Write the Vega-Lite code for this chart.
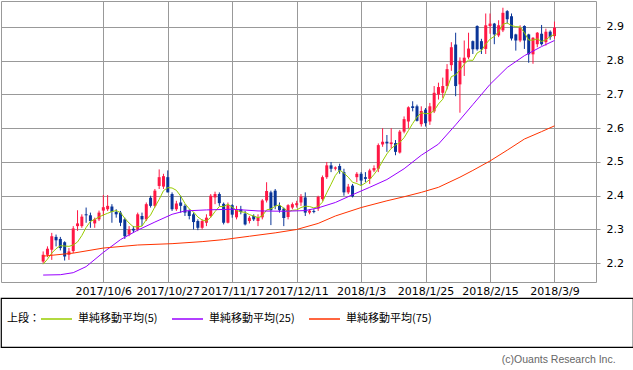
{
"$schema": "https://vega.github.io/schema/vega-lite/v6.json",
"background": "white",
"padding": {"left": 0, "top": 0, "right": 0, "bottom": 0},
"spacing": 0,
"title": {"text": "(c)Ouants Research Inc.", "orient": "bottom", "anchor": "end", "font": "Liberation Sans", "fontSize": 10.5, "fontWeight": "normal", "color": "#666666", "offset": 7, "dx": -18},
"datasets": {
"candles": [
{"i":0,"o":2.205,"h":2.235,"l":2.2,"c":2.225},
{"i":1,"o":2.225,"h":2.25,"l":2.218,"c":2.243},
{"i":2,"o":2.24,"h":2.29,"l":2.21,"c":2.28},
{"i":3,"o":2.278,"h":2.285,"l":2.25,"c":2.268},
{"i":4,"o":2.272,"h":2.278,"l":2.238,"c":2.245},
{"i":5,"o":2.262,"h":2.265,"l":2.208,"c":2.22},
{"i":6,"o":2.225,"h":2.245,"l":2.21,"c":2.235},
{"i":7,"o":2.236,"h":2.31,"l":2.23,"c":2.303},
{"i":8,"o":2.31,"h":2.357,"l":2.296,"c":2.318},
{"i":9,"o":2.31,"h":2.345,"l":2.305,"c":2.338},
{"i":10,"o":2.345,"h":2.365,"l":2.32,"c":2.342},
{"i":11,"o":2.342,"h":2.35,"l":2.305,"c":2.325},
{"i":12,"o":2.318,"h":2.335,"l":2.305,"c":2.33},
{"i":13,"o":2.33,"h":2.356,"l":2.325,"c":2.35},
{"i":14,"o":2.356,"h":2.402,"l":2.34,"c":2.366},
{"i":15,"o":2.36,"h":2.402,"l":2.355,"c":2.37},
{"i":16,"o":2.368,"h":2.375,"l":2.32,"c":2.352},
{"i":17,"o":2.352,"h":2.36,"l":2.335,"c":2.345},
{"i":18,"o":2.35,"h":2.355,"l":2.31,"c":2.32},
{"i":19,"o":2.33,"h":2.335,"l":2.272,"c":2.28},
{"i":20,"o":2.285,"h":2.31,"l":2.28,"c":2.3},
{"i":21,"o":2.302,"h":2.31,"l":2.29,"c":2.297},
{"i":22,"o":2.3,"h":2.35,"l":2.295,"c":2.345},
{"i":23,"o":2.34,"h":2.35,"l":2.31,"c":2.33},
{"i":24,"o":2.33,"h":2.38,"l":2.325,"c":2.375},
{"i":25,"o":2.394,"h":2.4,"l":2.365,"c":2.37},
{"i":26,"o":2.37,"h":2.42,"l":2.365,"c":2.415},
{"i":27,"o":2.429,"h":2.478,"l":2.42,"c":2.455},
{"i":28,"o":2.427,"h":2.465,"l":2.42,"c":2.458},
{"i":29,"o":2.455,"h":2.475,"l":2.41,"c":2.41},
{"i":30,"o":2.405,"h":2.41,"l":2.355,"c":2.36},
{"i":31,"o":2.36,"h":2.385,"l":2.355,"c":2.377},
{"i":32,"o":2.38,"h":2.4,"l":2.35,"c":2.37},
{"i":33,"o":2.37,"h":2.375,"l":2.34,"c":2.35},
{"i":34,"o":2.355,"h":2.36,"l":2.33,"c":2.34},
{"i":35,"o":2.345,"h":2.35,"l":2.3,"c":2.322},
{"i":36,"o":2.325,"h":2.33,"l":2.298,"c":2.305},
{"i":37,"o":2.305,"h":2.33,"l":2.3,"c":2.325},
{"i":38,"o":2.32,"h":2.345,"l":2.31,"c":2.335},
{"i":39,"o":2.34,"h":2.405,"l":2.335,"c":2.4},
{"i":40,"o":2.395,"h":2.412,"l":2.375,"c":2.405},
{"i":41,"o":2.405,"h":2.41,"l":2.37,"c":2.378},
{"i":42,"o":2.376,"h":2.38,"l":2.315,"c":2.32},
{"i":43,"o":2.32,"h":2.38,"l":2.318,"c":2.372},
{"i":44,"o":2.372,"h":2.375,"l":2.335,"c":2.344},
{"i":45,"o":2.336,"h":2.37,"l":2.33,"c":2.36},
{"i":46,"o":2.36,"h":2.37,"l":2.345,"c":2.352},
{"i":47,"o":2.347,"h":2.355,"l":2.312,"c":2.315},
{"i":48,"o":2.325,"h":2.34,"l":2.318,"c":2.335},
{"i":49,"o":2.34,"h":2.345,"l":2.325,"c":2.33},
{"i":50,"o":2.325,"h":2.345,"l":2.31,"c":2.336},
{"i":51,"o":2.336,"h":2.39,"l":2.33,"c":2.386},
{"i":52,"o":2.386,"h":2.44,"l":2.38,"c":2.414},
{"i":53,"o":2.41,"h":2.415,"l":2.313,"c":2.357},
{"i":54,"o":2.415,"h":2.42,"l":2.36,"c":2.37},
{"i":55,"o":2.37,"h":2.38,"l":2.35,"c":2.357},
{"i":56,"o":2.362,"h":2.365,"l":2.31,"c":2.334},
{"i":57,"o":2.337,"h":2.375,"l":2.33,"c":2.372},
{"i":58,"o":2.365,"h":2.38,"l":2.36,"c":2.375},
{"i":59,"o":2.372,"h":2.385,"l":2.365,"c":2.378},
{"i":60,"o":2.38,"h":2.405,"l":2.37,"c":2.398},
{"i":61,"o":2.395,"h":2.41,"l":2.34,"c":2.35},
{"i":62,"o":2.35,"h":2.36,"l":2.345,"c":2.356},
{"i":63,"o":2.355,"h":2.36,"l":2.348,"c":2.352},
{"i":64,"o":2.362,"h":2.4,"l":2.355,"c":2.397},
{"i":65,"o":2.39,"h":2.46,"l":2.385,"c":2.455},
{"i":66,"o":2.455,"h":2.5,"l":2.45,"c":2.49},
{"i":67,"o":2.49,"h":2.5,"l":2.47,"c":2.48},
{"i":68,"o":2.48,"h":2.487,"l":2.475,"c":2.484},
{"i":69,"o":2.488,"h":2.495,"l":2.465,"c":2.474},
{"i":70,"o":2.47,"h":2.48,"l":2.4,"c":2.41},
{"i":71,"o":2.41,"h":2.435,"l":2.405,"c":2.427},
{"i":72,"o":2.43,"h":2.435,"l":2.395,"c":2.398},
{"i":73,"o":2.455,"h":2.47,"l":2.44,"c":2.465},
{"i":74,"o":2.465,"h":2.47,"l":2.43,"c":2.445},
{"i":75,"o":2.455,"h":2.47,"l":2.44,"c":2.45},
{"i":76,"o":2.45,"h":2.48,"l":2.435,"c":2.475},
{"i":77,"o":2.475,"h":2.49,"l":2.47,"c":2.482},
{"i":78,"o":2.48,"h":2.555,"l":2.47,"c":2.55},
{"i":79,"o":2.552,"h":2.6,"l":2.545,"c":2.56},
{"i":80,"o":2.56,"h":2.58,"l":2.53,"c":2.555},
{"i":81,"o":2.553,"h":2.6,"l":2.54,"c":2.558},
{"i":82,"o":2.556,"h":2.565,"l":2.52,"c":2.53},
{"i":83,"o":2.528,"h":2.595,"l":2.525,"c":2.59},
{"i":84,"o":2.59,"h":2.635,"l":2.585,"c":2.627},
{"i":85,"o":2.62,"h":2.665,"l":2.6,"c":2.662},
{"i":86,"o":2.665,"h":2.68,"l":2.65,"c":2.66},
{"i":87,"o":2.665,"h":2.67,"l":2.62,"c":2.622},
{"i":88,"o":2.612,"h":2.665,"l":2.605,"c":2.651},
{"i":89,"o":2.655,"h":2.66,"l":2.605,"c":2.615},
{"i":90,"o":2.62,"h":2.675,"l":2.61,"c":2.665},
{"i":91,"o":2.65,"h":2.725,"l":2.645,"c":2.705},
{"i":92,"o":2.7,"h":2.735,"l":2.685,"c":2.722},
{"i":93,"o":2.705,"h":2.75,"l":2.69,"c":2.725},
{"i":94,"o":2.725,"h":2.79,"l":2.715,"c":2.775},
{"i":95,"o":2.787,"h":2.855,"l":2.77,"c":2.84},
{"i":96,"o":2.848,"h":2.883,"l":2.695,"c":2.725},
{"i":97,"o":2.73,"h":2.81,"l":2.646,"c":2.8},
{"i":98,"o":2.794,"h":2.86,"l":2.755,"c":2.809},
{"i":99,"o":2.81,"h":2.883,"l":2.805,"c":2.836},
{"i":100,"o":2.858,"h":2.86,"l":2.82,"c":2.834},
{"i":101,"o":2.903,"h":2.905,"l":2.83,"c":2.834},
{"i":102,"o":2.858,"h":2.865,"l":2.82,"c":2.834},
{"i":103,"o":2.835,"h":2.94,"l":2.82,"c":2.905},
{"i":104,"o":2.903,"h":2.94,"l":2.88,"c":2.91},
{"i":105,"o":2.91,"h":2.912,"l":2.849,"c":2.878},
{"i":106,"o":2.875,"h":2.92,"l":2.87,"c":2.905},
{"i":107,"o":2.89,"h":2.957,"l":2.885,"c":2.942},
{"i":108,"o":2.947,"h":2.95,"l":2.91,"c":2.923},
{"i":109,"o":2.932,"h":2.94,"l":2.86,"c":2.866},
{"i":110,"o":2.878,"h":2.88,"l":2.83,"c":2.86},
{"i":111,"o":2.86,"h":2.905,"l":2.855,"c":2.898},
{"i":112,"o":2.903,"h":2.905,"l":2.835,"c":2.86},
{"i":113,"o":2.878,"h":2.88,"l":2.794,"c":2.819},
{"i":114,"o":2.819,"h":2.87,"l":2.791,"c":2.868},
{"i":115,"o":2.849,"h":2.885,"l":2.84,"c":2.883},
{"i":116,"o":2.88,"h":2.906,"l":2.845,"c":2.849},
{"i":117,"o":2.855,"h":2.895,"l":2.845,"c":2.886},
{"i":118,"o":2.886,"h":2.89,"l":2.862,"c":2.87},
{"i":119,"o":2.873,"h":2.916,"l":2.865,"c":2.898}
],
"ma": [
{"s":"5","i":0,"v":2.197},{"s":"5","i":1,"v":2.212},{"s":"5","i":2,"v":2.23},{"s":"5","i":3,"v":2.243},{"s":"5","i":4,"v":2.252},
{"s":"5","i":5,"v":2.251},{"s":"5","i":6,"v":2.25},{"s":"5","i":7,"v":2.254},{"s":"5","i":8,"v":2.263},{"s":"5","i":9,"v":2.282},
{"s":"5","i":10,"v":2.306},{"s":"5","i":11,"v":2.324},{"s":"5","i":12,"v":2.33},{"s":"5","i":13,"v":2.337},{"s":"5","i":14,"v":2.343},
{"s":"5","i":15,"v":2.348},{"s":"5","i":16,"v":2.353},{"s":"5","i":17,"v":2.356},{"s":"5","i":18,"v":2.35},{"s":"5","i":19,"v":2.333},
{"s":"5","i":20,"v":2.319},{"s":"5","i":21,"v":2.308},{"s":"5","i":22,"v":2.308},{"s":"5","i":23,"v":2.31},{"s":"5","i":24,"v":2.329},
{"s":"5","i":25,"v":2.343},{"s":"5","i":26,"v":2.367},{"s":"5","i":27,"v":2.389},{"s":"5","i":28,"v":2.415},{"s":"5","i":29,"v":2.424},
{"s":"5","i":30,"v":2.423},{"s":"5","i":31,"v":2.416},{"s":"5","i":32,"v":2.399},{"s":"5","i":33,"v":2.377},{"s":"5","i":34,"v":2.361},
{"s":"5","i":35,"v":2.352},{"s":"5","i":36,"v":2.337},{"s":"5","i":37,"v":2.328},{"s":"5","i":38,"v":2.325},{"s":"5","i":39,"v":2.336},
{"s":"5","i":40,"v":2.353},{"s":"5","i":41,"v":2.368},{"s":"5","i":42,"v":2.368},{"s":"5","i":43,"v":2.375},{"s":"5","i":44,"v":2.366},
{"s":"5","i":45,"v":2.357},{"s":"5","i":46,"v":2.352},{"s":"5","i":47,"v":2.351},{"s":"5","i":48,"v":2.344},{"s":"5","i":49,"v":2.34},
{"s":"5","i":50,"v":2.335},{"s":"5","i":51,"v":2.34},{"s":"5","i":52,"v":2.358},{"s":"5","i":53,"v":2.361},{"s":"5","i":54,"v":2.369},
{"s":"5","i":55,"v":2.373},{"s":"5","i":56,"v":2.363},{"s":"5","i":57,"v":2.353},{"s":"5","i":58,"v":2.357},{"s":"5","i":59,"v":2.358},
{"s":"5","i":60,"v":2.365},{"s":"5","i":61,"v":2.369},{"s":"5","i":62,"v":2.368},{"s":"5","i":63,"v":2.364},{"s":"5","i":64,"v":2.368},
{"s":"5","i":65,"v":2.381},{"s":"5","i":66,"v":2.409},{"s":"5","i":67,"v":2.434},{"s":"5","i":68,"v":2.46},{"s":"5","i":69,"v":2.476},
{"s":"5","i":70,"v":2.467},{"s":"5","i":71,"v":2.455},{"s":"5","i":72,"v":2.44},{"s":"5","i":73,"v":2.436},{"s":"5","i":74,"v":2.43},
{"s":"5","i":75,"v":2.438},{"s":"5","i":76,"v":2.448},{"s":"5","i":77,"v":2.463},{"s":"5","i":78,"v":2.48},{"s":"5","i":79,"v":2.503},
{"s":"5","i":80,"v":2.524},{"s":"5","i":81,"v":2.54},{"s":"5","i":82,"v":2.55},{"s":"5","i":83,"v":2.558},{"s":"5","i":84,"v":2.572},
{"s":"5","i":85,"v":2.593},{"s":"5","i":86,"v":2.614},{"s":"5","i":87,"v":2.633},{"s":"5","i":88,"v":2.646},{"s":"5","i":89,"v":2.643},
{"s":"5","i":90,"v":2.644},{"s":"5","i":91,"v":2.652},{"s":"5","i":92,"v":2.672},{"s":"5","i":93,"v":2.686},{"s":"5","i":94,"v":2.718},
{"s":"5","i":95,"v":2.753},{"s":"5","i":96,"v":2.758},{"s":"5","i":97,"v":2.773},{"s":"5","i":98,"v":2.79},{"s":"5","i":99,"v":2.802},
{"s":"5","i":100,"v":2.801},{"s":"5","i":101,"v":2.823},{"s":"5","i":102,"v":2.83},{"s":"5","i":103,"v":2.849},{"s":"5","i":104,"v":2.864},
{"s":"5","i":105,"v":2.872},{"s":"5","i":106,"v":2.886},{"s":"5","i":107,"v":2.908},{"s":"5","i":108,"v":2.912},{"s":"5","i":109,"v":2.904},
{"s":"5","i":110,"v":2.901},{"s":"5","i":111,"v":2.9},{"s":"5","i":112,"v":2.883},{"s":"5","i":113,"v":2.861},{"s":"5","i":114,"v":2.861},
{"s":"5","i":115,"v":2.865},{"s":"5","i":116,"v":2.857},{"s":"5","i":117,"v":2.862},{"s":"5","i":118,"v":2.872},{"s":"5","i":119,"v":2.878},
{"s":"25","i":0,"v":2.165},{"s":"25","i":4,"v":2.166},{"s":"25","i":7,"v":2.172},{"s":"25","i":10,"v":2.19},{"s":"25","i":14,"v":2.232},
{"s":"25","i":18,"v":2.27},{"s":"25","i":22,"v":2.298},{"s":"25","i":26,"v":2.322},{"s":"25","i":30,"v":2.345},{"s":"25","i":33,"v":2.355},
{"s":"25","i":38,"v":2.358},{"s":"25","i":44,"v":2.36},{"s":"25","i":50,"v":2.355},{"s":"25","i":56,"v":2.354},{"s":"25","i":61,"v":2.356},
{"s":"25","i":64,"v":2.364},{"s":"25","i":68,"v":2.38},{"s":"25","i":72,"v":2.403},{"s":"25","i":76,"v":2.425},{"s":"25","i":80,"v":2.448},
{"s":"25","i":84,"v":2.48},{"s":"25","i":88,"v":2.52},{"s":"25","i":92,"v":2.553},{"s":"25","i":96,"v":2.61},{"s":"25","i":100,"v":2.67},
{"s":"25","i":104,"v":2.73},{"s":"25","i":108,"v":2.78},{"s":"25","i":112,"v":2.815},{"s":"25","i":116,"v":2.842},{"s":"25","i":119,"v":2.86},
{"s":"75","i":0,"v":2.221},{"s":"75","i":7,"v":2.23},{"s":"75","i":14,"v":2.245},{"s":"75","i":22,"v":2.254},{"s":"75","i":30,"v":2.258},
{"s":"75","i":37,"v":2.264},{"s":"75","i":42,"v":2.27},{"s":"75","i":48,"v":2.28},{"s":"75","i":54,"v":2.29},{"s":"75","i":59,"v":2.3},
{"s":"75","i":64,"v":2.318},{"s":"75","i":68,"v":2.34},{"s":"75","i":74,"v":2.365},{"s":"75","i":80,"v":2.385},{"s":"75","i":84,"v":2.397},
{"s":"75","i":88,"v":2.41},{"s":"75","i":92,"v":2.425},{"s":"75","i":97,"v":2.455},{"s":"75","i":100,"v":2.475},{"s":"75","i":104,"v":2.503},
{"s":"75","i":108,"v":2.535},{"s":"75","i":112,"v":2.568},{"s":"75","i":116,"v":2.59},{"s":"75","i":119,"v":2.607}
]
},
"vconcat": [
{
"width": 595,
"height": 281,
"view": {"stroke": "#999999", "strokeWidth": 1},
"encoding": {
"x": {"field": "i", "type": "quantitative", "scale": {"domain": [-8.65, 127.5], "nice": false, "zero": false},
"axis": {"title": null, "values": [14, 29, 44, 59, 74, 89, 104, 119], "grid": true, "gridColor": "#999999", "gridWidth": 1, "domain": false, "ticks": false, "labelPadding": 3, "labelFont": "DejaVu Sans", "labelFontSize": 11, "labelColor": "#000000", "labelFlush": false, "labelOverlap": false,
"labelExpr": "['2017/10/6','2017/10/27','2017/11/17','2017/12/11','2018/1/3','2018/1/25','2018/2/15','2018/3/9'][(datum.value-14)/15]"}}
},
"layer": [
{
"data": {"name": "candles"},
"mark": {"type": "rule", "strokeWidth": 1},
"encoding": {
"y": {"field": "l", "type": "quantitative", "scale": {"domain": [2.1444, 2.977], "nice": false, "zero": false},
"axis": {"title": null, "orient": "right", "values": [2.2, 2.3, 2.4, 2.5, 2.6, 2.7, 2.8, 2.9], "format": ".1f", "grid": true, "gridColor": "#999999", "domain": false, "ticks": true, "tickSize": 4, "tickColor": "#999999", "labelPadding": 6, "labelFont": "DejaVu Sans", "labelFontSize": 11, "labelColor": "#000000", "labelFlush": false}},
"y2": {"field": "h"},
"color": {"condition": {"test": "datum.c >= datum.o", "value": "#ff1744"}, "value": "#0a3598"}
}
},
{
"data": {"name": "candles"},
"mark": {"type": "bar", "size": 3},
"encoding": {
"y": {"field": "o", "type": "quantitative"},
"y2": {"field": "c"},
"color": {"condition": {"test": "datum.c >= datum.o", "value": "#ff1744"}, "value": "#0a3598"}
}
},
{
"data": {"name": "ma"},
"mark": {"type": "line", "strokeWidth": 1},
"encoding": {
"y": {"field": "v", "type": "quantitative"},
"color": {"field": "s", "type": "nominal", "scale": {"domain": ["5", "25", "75"], "range": ["#99cc00", "#9900ff", "#ff3300"]},
"legend": {"title": "上段：", "titleOrient": "left", "orient": "none", "legendX": 6, "legendY": 311, "direction": "horizontal", "symbolType": "stroke", "symbolSize": 961, "clipHeight": 14, "symbolStrokeWidth": 1.5, "labelOffset": 5, "columnPadding": 13, "padding": 0, "titlePadding": 0,
"labelFont": "Noto Sans CJK JP", "labelFontSize": 11, "labelColor": "#000000", "titleFont": "Noto Sans CJK JP", "titleFontSize": 11, "titleFontWeight": "normal", "titleColor": "#000000",
"labelExpr": "'単純移動平均(' + datum.label + ')'"}}
}
}
]
},
{
"width": 632,
"height": 49,
"view": {"stroke": "#000000", "strokeWidth": 1.2},
"data": {"values": [{}]},
"mark": {"type": "text", "text": ""}
}
]
}
